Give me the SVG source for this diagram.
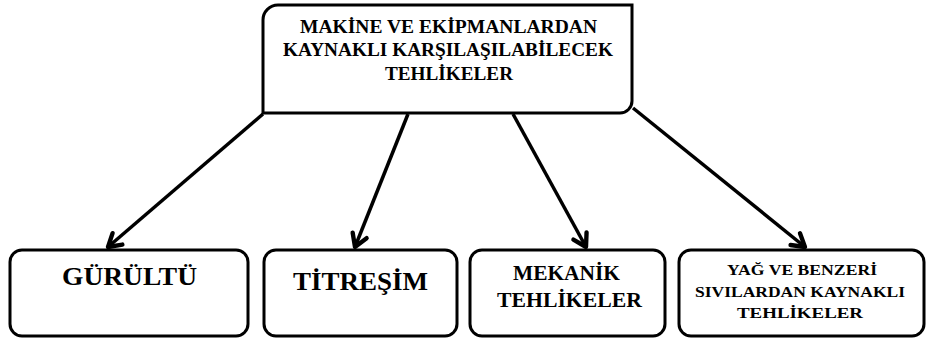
<svg xmlns="http://www.w3.org/2000/svg" width="928" height="340" viewBox="0 0 928 340">
<style>
.box{fill:#fff;stroke:#000;stroke-width:3}
.t{font-family:"Liberation Serif","Times New Roman",serif;font-weight:bold;fill:#000;text-anchor:middle}
.c{stroke:#000;stroke-width:3.5;fill:none}
</style>
<defs>
<marker id="ah" markerUnits="userSpaceOnUse" markerWidth="20" markerHeight="20" viewBox="-12 -8 14 16" refX="0" refY="0" orient="auto">
<path d="M-10,-6 L0,0 L-10,6" fill="none" stroke="#000" stroke-width="3.5" stroke-linecap="round" stroke-linejoin="round"/>
</marker>
</defs>
<rect width="928" height="340" fill="#fff"/>
<g id="connectors">
<line class="c" x1="263" y1="114" x2="108" y2="247" marker-end="url(#ah)"/>
<line class="c" x1="408" y1="114" x2="355" y2="247" marker-end="url(#ah)"/>
<line class="c" x1="513" y1="114" x2="586" y2="247" marker-end="url(#ah)"/>
<line class="c" x1="633" y1="108" x2="805" y2="247" marker-end="url(#ah)"/>
</g>
<g id="top">
<path class="box" d="M263,113 V20 A15,15 0 0 1 278,5 H632 V101 A12,12 0 0 1 620,113 Z"/>
<text class="t" font-size="18" x="448.5" y="33" textLength="297" lengthAdjust="spacingAndGlyphs">MAKİNE VE EKİPMANLARDAN</text>
<text class="t" font-size="18" x="448" y="56" textLength="330" lengthAdjust="spacingAndGlyphs">KAYNAKLI KARŞILAŞILABİLECEK</text>
<text class="t" font-size="18" x="449" y="80" textLength="128" lengthAdjust="spacingAndGlyphs">TEHLİKELER</text>
</g>
<g id="gurultu">
<rect class="box" x="10" y="250" width="238" height="86" rx="12"/>
<text class="t" font-size="26" x="129.5" y="285" textLength="135" lengthAdjust="spacingAndGlyphs">GÜRÜLTÜ</text>
</g>
<g id="titresim">
<rect class="box" x="264" y="250" width="193" height="86" rx="12"/>
<text class="t" font-size="26" x="360.5" y="290" textLength="135" lengthAdjust="spacingAndGlyphs">TİTREŞİM</text>
</g>
<g id="mekanik">
<rect class="box" x="470" y="250" width="195" height="86" rx="12"/>
<text class="t" font-size="20" x="566.5" y="280" textLength="107" lengthAdjust="spacingAndGlyphs">MEKANİK</text>
<text class="t" font-size="20" x="569.5" y="307" textLength="145" lengthAdjust="spacingAndGlyphs">TEHLİKELER</text>
</g>
<g id="yag">
<rect class="box" x="679" y="250" width="245" height="86" rx="12"/>
<text class="t" font-size="15.5" x="802" y="275" textLength="150" lengthAdjust="spacingAndGlyphs">YAĞ VE BENZERİ</text>
<text class="t" font-size="15.5" x="800" y="297" textLength="210" lengthAdjust="spacingAndGlyphs">SIVILARDAN KAYNAKLI</text>
<text class="t" font-size="15.5" x="800" y="318" textLength="126" lengthAdjust="spacingAndGlyphs">TEHLİKELER</text>
</g>
</svg>
